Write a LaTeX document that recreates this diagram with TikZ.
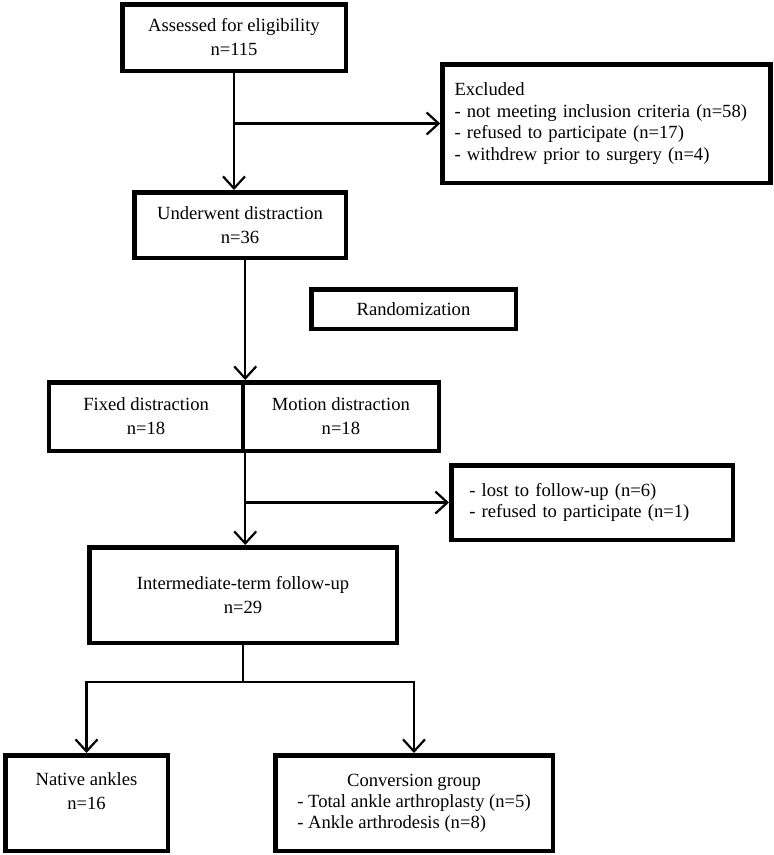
\documentclass[tikz,border=0pt]{standalone}
\usepackage{fontspec}
\setmainfont{Liberation Serif}
\usetikzlibrary{arrows.meta}
\begin{document}
\begin{tikzpicture}[x=1pt,y=-1pt,->,line width=2.2pt,
    >={Straight Barb[length=12pt,width=22pt]},
    box/.style={draw,line width=4.5pt,align=center,inner sep=0pt,
      font=\fontsize{18.6}{24}\selectfont},
    list/.style={box,align=left,inner xsep=19pt,
      font=\fontsize{18.6}{21.5}\selectfont}]
      \useasboundingbox (0,0) rectangle (774,855);
      \node[box,minimum width=223.5,minimum height=66.5] (elig) at (234,37.5) {Assessed for eligibility\\n=115};
      \node[list,text width=304,inner xsep=12pt,minimum height=118.5] (excl) at (606.5,123.5) {Excluded\\- not meeting inclusion criteria (n=58)\\- refused to participate (n=17)\\- withdrew prior to surgery (n=4)};
      \node[box,minimum width=211.5,minimum height=65.5] (dist) at (240,225) {Underwent distraction\\n=36};
      \node[box,minimum width=204.5,minimum height=39.5] (rand) at (413.5,309) {Randomization};
      \node[box,minimum width=193.75,minimum height=68.5] (fix) at (146.1,416.5) {Fixed distraction\\n=18};
      \node[box,minimum width=195.75,minimum height=68.5] (mot) at (340.9,416.5) {Motion distraction\\n=18};
      \node[list,text width=245.5,inner xsep=18pt,minimum height=74.5] (lost) at (592,502.5) {- lost to follow-up (n=6)\\- refused to participate (n=1)};
      \node[box,minimum width=307.5,minimum height=95.5] (fu) at (243,595) {Intermediate-term follow-up\\n=29};
      \node[box,minimum width=162.5,minimum height=95.5] (nat) at (86.5,803) {Native ankles\\n=16\\\mbox{}};
      \node[box,minimum width=277.5,minimum height=95.5,font=\fontsize{18.6}{21}\selectfont] (conv) at (414,803) {\begin{tabular}{@{}l@{}}\multicolumn{1}{@{}c@{}}{Conversion group}\\- Total ankle arthroplasty (n=5)\\- Ankle arthrodesis (n=8)\end{tabular}};
      \coordinate (split) at (243,682);
      \draw (elig.south) -- (elig.south |- dist.north);
      \draw (elig.south |- excl.west) -- (excl.west);
      \draw (dist.south -| fix.north east) -- (fix.north east);
      \draw (fix.south east) -- (fix.south east |- fu.north);
      \draw (fix.south east |- lost.west) -- (lost.west);
      \draw[-] (fu.south) -- (split);
      \draw (split) -| (nat.north);
      \draw (split) -| (conv.north);
  \end{tikzpicture}
\end{document}
